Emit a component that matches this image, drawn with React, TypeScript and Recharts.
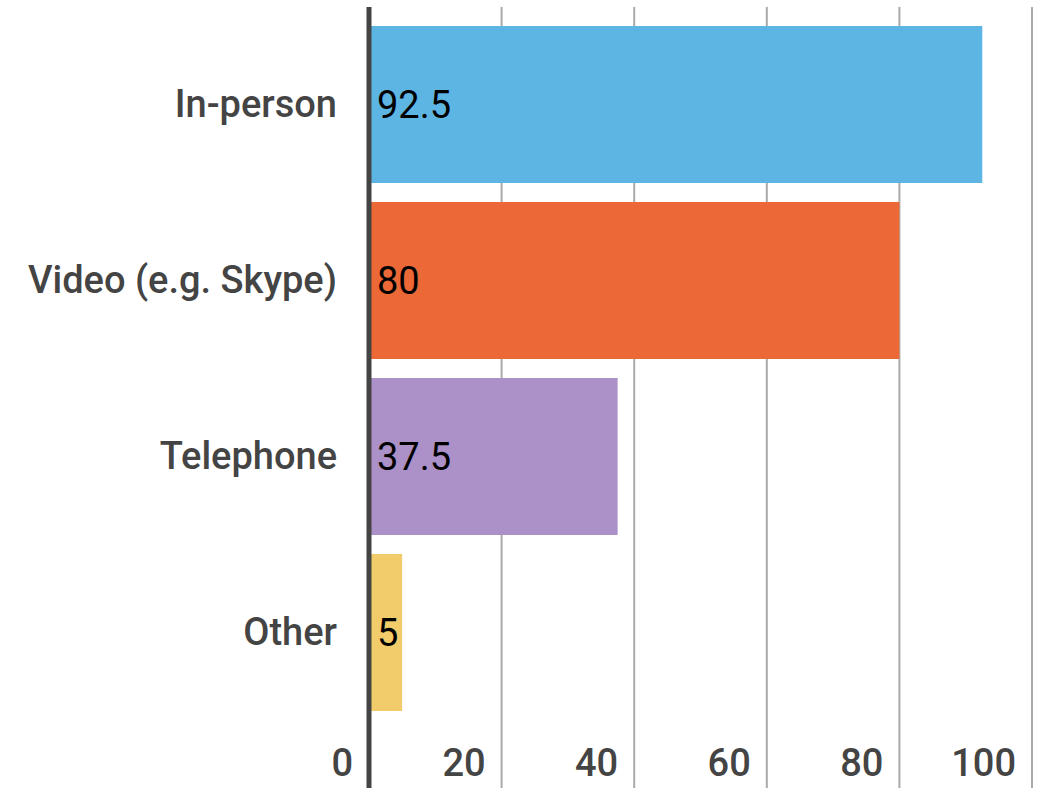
import { BarChart, Bar, XAxis, YAxis, CartesianGrid, Cell, LabelList } from 'recharts';

const categories = ['In-person', 'Video (e.g. Skype)', 'Telephone', 'Other'];
const values = [92.5, 80, 37.5, 5];
const colors = ['#5db5e4', '#ec6836', '#ac90c8', '#f2cc6b'];
const xTicks = [0, 20, 40, 60, 80, 100];

const data = categories.map((name, i) => ({ name, value: values[i] }));

const FONT = 'Roboto, "Noto Sans", sans-serif';

// tick labels sit inside the plot, just left of each grid line
const XTick = ({ x, y, payload }: any) => (
  <text
    x={x - 16}
    y={y - 12}
    textAnchor="end"
    fontFamily={FONT}
    fontSize={38}
    fontWeight={500}
    fill="#444"
  >
    {payload.value}
  </text>
);

export default function App() {
  return (
    <div style={{ position: 'absolute', left: 0, top: 0, background: '#fff' }}>
      <BarChart
        width={1051}
        height={788}
        data={data}
        layout="vertical"
        margin={{ top: 7, right: 19, bottom: -1, left: 0 }}
      >
        <CartesianGrid horizontal={false} stroke="#aaa" strokeWidth={2} />
        <XAxis
          type="number"
          domain={[0, 100]}
          ticks={xTicks}
          height={1}
          tickSize={0}
          tickMargin={0}
          axisLine={false}
          tickLine={false}
          tick={XTick}
          interval={0}
        />
        <YAxis
          type="category"
          dataKey="name"
          width={369}
          padding={{ top: 9, bottom: 68 }}
          tickSize={0}
          tickMargin={32}
          tickLine={false}
          axisLine={{ stroke: '#444', strokeWidth: 5 }}
          tick={{ fontFamily: FONT, fontSize: 38, fontWeight: 500, fill: '#444' }}
        />
        <Bar dataKey="value" barSize={157} isAnimationActive={false}>
          {data.map((d, i) => (
            <Cell key={d.name} fill={colors[i]} />
          ))}
          <LabelList
            dataKey="value"
            position="insideLeft"
            offset={8}
            fill="#000"
            fontFamily={FONT}
            fontSize={38}
            fontWeight={400}
          />
        </Bar>
      </BarChart>
    </div>
  );
}
